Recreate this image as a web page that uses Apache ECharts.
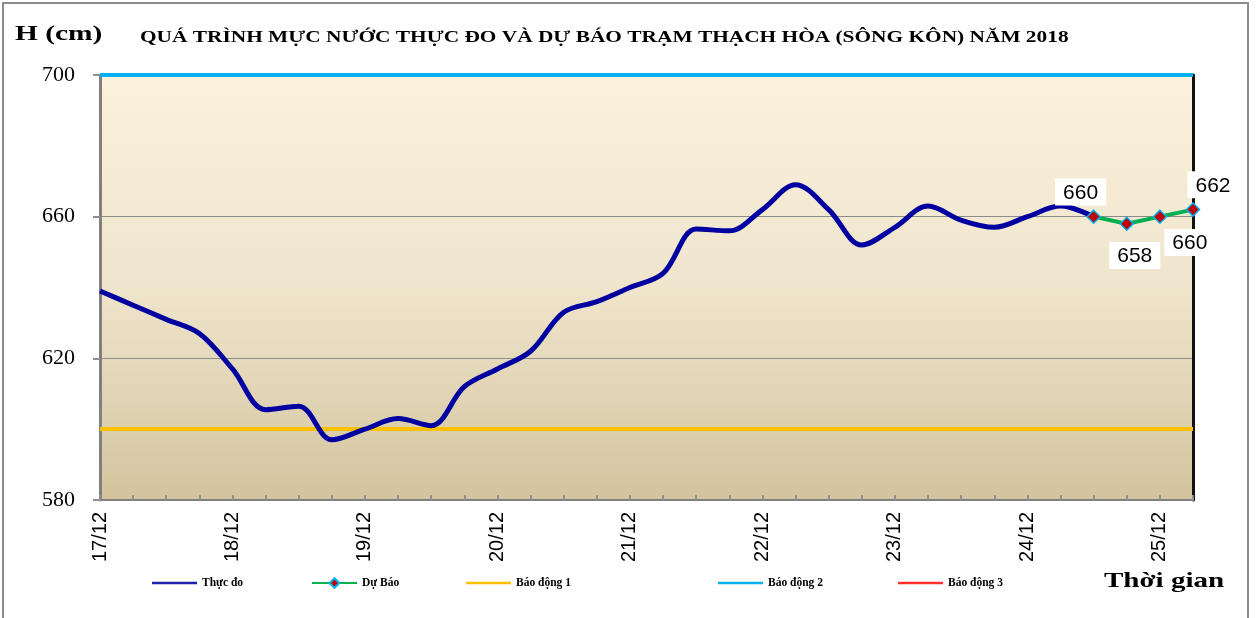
<!DOCTYPE html>
<html>
<head>
<meta charset="utf-8">
<script src="https://cdn.jsdelivr.net/npm/echarts@6/dist/echarts.min.js"></script>
<style>html,body{margin:0;padding:0;background:#fff}#c{width:1256px;height:618px}</style>
</head>
<body>
<div id="c"></div>
<script>
// ---- data ----
const days = ['17/12','18/12','19/12','20/12','21/12','22/12','23/12','24/12','25/12'];
const hours = ['01h','07h','13h','19h'];
// observed water level (cm), every 6 hours from 17/12
const observed = [639,635,631,627, 617,605.5,606.5,597, 600,603,601,612, 617,622,633,636, 640,644,656.5,656, 662,669,662,652, 657,663,659,657, 660,663,660];
// forecast (cm)
const forecast = [660,658,660,662];
const forecastStart = 30;
const ALARM1 = 600, ALARM2 = 700;

// build categories
const categories = [];
days.forEach(d => hours.forEach(h => categories.push(d + ' ' + h)));
categories.length = forecastStart + forecast.length;
const obsData = categories.map((c, i) => i < observed.length ? observed[i] : null);
const fcData = categories.map((c, i) => i >= forecastStart ? forecast[i - forecastStart] : null);

const labelCfg = [
  {position:'top', offset:[-13,1]},
  {position:'bottom', offset:[8,6]},
  {position:'bottom', offset:[30,0]},
  {position:'top', offset:[20,1]}
];
const fcSeriesData = fcData.map((v, i) => {
  if (v === null) return null;
  const k = i - forecastStart;
  return {value: v, label: Object.assign({show:true}, labelCfg[k])};
});

const serif = '"Liberation Serif","Times New Roman",serif';
const sans = '"Liberation Sans",Arial,sans-serif';

const chart = echarts.init(document.getElementById('c'));
const legendBase = {
  top: 577, itemWidth: 45, itemHeight: 12, itemGap: 0, padding: 0,
  textStyle: {fontFamily: serif, fontWeight: 'bold', fontSize: 11.5, color: '#000'}
};
const lineIcon = 'rect';
chart.setOption({
  animation: false,
  backgroundColor: '#fff',
  graphic: [
    {type:'rect', shape:{x:3, y:3, width:1245, height:620}, style:{fill:'none', stroke:'#8c8c8c', lineWidth:2}, silent:true, z:-1},
    {type:'text', x:15, y:24, scaleX:1.4, style:{text:'H (cm)', font:'bold 21px ' + serif, fill:'#000'}},
    {type:'text', x:140, y:29, scaleX:1.256, style:{text:'QUÁ TRÌNH MỰC NƯỚC THỰC ĐO VÀ DỰ BÁO TRẠM THẠCH HÒA (SÔNG KÔN) NĂM 2018', font:'bold 17px ' + serif, fill:'#000'}},
    {type:'text', x:1104, y:570, scaleX:1.32, style:{text:'Thời gian', font:'bold 22px ' + serif, fill:'#000'}}
  ],
  legend: [
    Object.assign({}, legendBase, {left:152, data:[{name:'Thực đo', icon: lineIcon}], itemHeight: 2.5}),
    Object.assign({}, legendBase, {left:311, data:['Dự Báo']}),
    Object.assign({}, legendBase, {left:466, data:[{name:'Báo động 1', icon: lineIcon}], itemHeight: 2.5}),
    Object.assign({}, legendBase, {left:718, data:[{name:'Báo động 2', icon: lineIcon}], itemHeight: 2.5}),
    Object.assign({}, legendBase, {left:898, data:[{name:'Báo động 3', icon: lineIcon}], itemHeight: 2.5})
  ],
  grid: {
    left: 100, right: 63, top: 75, bottom: 118, show: true, borderWidth: 0,
    backgroundColor: new echarts.graphic.LinearGradient(0, 0, 0, 1, [
      {offset: 0, color: '#FCF1DC'},
      {offset: 0.5, color: '#EFE5CC'},
      {offset: 1, color: '#D3C49E'}
    ])
  },
  xAxis: {
    type: 'category', data: categories, boundaryGap: false,
    axisLine: {lineStyle: {color: '#808080', width: 2}},
    axisTick: {show: true, inside: true, length: 5, interval: 0, lineStyle: {color: '#909090', width: 2}},
    axisLabel: {
      interval: 3, rotate: 90, margin: 12, fontFamily: sans, fontSize: 20, color: '#000',
      formatter: v => v.split(' ')[0]
    },
    splitLine: {show: false}
  },
  yAxis: [{
    type: 'value', min: 580, max: 700, interval: 40,
    axisLine: {show: true, lineStyle: {color: '#808080', width: 3}},
    axisTick: {show: true, length: 7, lineStyle: {color: '#909090', width: 2}},
    axisLabel: {fontFamily: serif, fontSize: 22, color: '#000', margin: 25},
    splitLine: {show: true, lineStyle: {color: '#8c8c8c', width: 1.2}}
  }, {
    type: 'value', min: 580, max: 700, interval: 40, position: 'right',
    axisLine: {show: true, lineStyle: {color: '#111', width: 3}},
    axisTick: {show: false}, axisLabel: {show: false}, splitLine: {show: false}
  }],
  series: [
    {
      name: 'Thực đo', type: 'line', data: obsData, smooth: 0.35, showSymbol: false, symbol: 'none',
      color: '#2020A8',
      lineStyle: {color: '#0000A0', width: 5}, z: 5
    },
    {
      name: 'Dự Báo', type: 'line', data: fcSeriesData, smooth: false, clip: false,
      symbol: 'diamond', symbolSize: 13, showSymbol: true,
      lineStyle: {color: '#00B050', width: 4},
      itemStyle: {color: '#C00000', borderColor: '#00B0F0', borderWidth: 1.5},
      label: {fontFamily: sans, fontSize: 21, color: '#000', backgroundColor: '#fff', padding: [4, 8, 2, 8], distance: 5},
      z: 6
    },
    {
      name: 'Báo động 1', type: 'line', data: [], color: '#FFC000',
      lineStyle: {color: '#FFC000', width: 3}, symbol: 'none',
      markLine: {silent: true, symbol: 'none', label: {show: false},
        lineStyle: {color: '#FFC000', width: 4, type: 'solid'}, data: [{yAxis: ALARM1}]}
    },
    {
      name: 'Báo động 2', type: 'line', data: [], color: '#00B0F0',
      lineStyle: {color: '#00B0F0', width: 3}, symbol: 'none',
      markLine: {silent: true, symbol: 'none', label: {show: false},
        lineStyle: {color: '#00B0F0', width: 4, type: 'solid'}, data: [{yAxis: ALARM2}]}
    },
    {
      name: 'Báo động 3', type: 'line', data: [], color: '#FF3030',
      lineStyle: {color: '#FF3030', width: 3}, symbol: 'none'
    }
  ]
});
</script>
</body>
</html>
